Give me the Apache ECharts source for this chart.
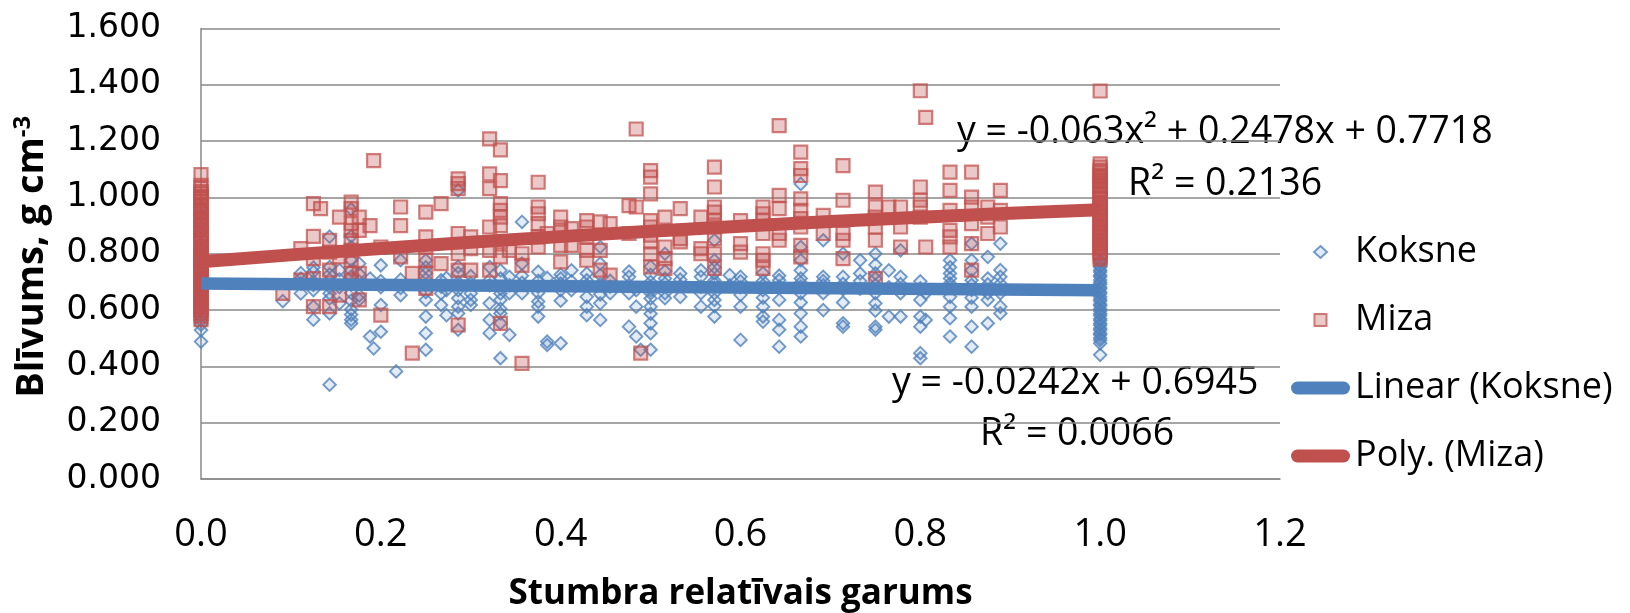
<!DOCTYPE html>
<html>
<head>
<meta charset="utf-8">
<script src="https://cdn.jsdelivr.net/npm/echarts@6/dist/echarts.min.js"></script>
<style>html,body{margin:0;padding:0;background:#fff}#chart{width:1630px;height:613px}</style>
</head>
<body>
<div id="chart"></div>
<script>
// ---- data ----
const seriesNames = ['Koksne', 'Miza', 'Linear (Koksne)', 'Poly. (Miza)'];
const xTicks = [0, 0.2, 0.4, 0.6, 0.8, 1.0, 1.2];
const yTicks = [0, 0.2, 0.4, 0.6, 0.8, 1.0, 1.2, 1.4, 1.6];

// Koksne: [relative stem position, [density values]]
const koksneCols = [
  [0, [0.488, 0.529, 0.548, 0.562, 0.579, 0.594, 0.612, 0.627, 0.643, 0.654, 0.669, 0.682, 0.694, 0.703, 0.718, 0.731, 0.744, 0.757, 0.772, 0.788, 0.801, 0.819, 0.834, 0.853, 0.872, 0.893, 0.914, 0.936, 0.963]],
  [0.091, [0.632]],
  [0.111, [0.731, 0.659, 0.694, 0.712]],
  [0.125, [0.736, 0.671, 0.612, 0.566, 0.702, 0.751, 0.689]],
  [0.143, [0.861, 0.753, 0.659, 0.588, 0.335, 0.708, 0.682, 0.727, 0.641]],
  [0.154, [0.742, 0.681, 0.624, 0.709]],
  [0.167, [0.958, 0.862, 0.824, 0.777, 0.718, 0.661, 0.602, 0.566, 0.553, 0.689, 0.741, 0.633, 0.584]],
  [0.176, [0.765, 0.637, 0.652, 0.702, 0.728]],
  [0.188, [0.506, 0.712]],
  [0.192, [0.464]],
  [0.2, [0.759, 0.618, 0.523, 0.681, 0.703]],
  [0.217, [0.382]],
  [0.222, [0.777, 0.653, 0.708, 0.679]],
  [0.25, [0.777, 0.731, 0.636, 0.577, 0.518, 0.459, 0.688, 0.664, 0.709, 0.752]],
  [0.267, [0.706, 0.659, 0.618, 0.683]],
  [0.273, [0.671, 0.582, 0.714]],
  [0.286, [1.025, 0.731, 0.671, 0.588, 0.53, 0.699, 0.642, 0.612, 0.754]],
  [0.3, [0.636, 0.618, 0.659, 0.694, 0.721]],
  [0.321, [0.753, 0.624, 0.565, 0.518, 0.688, 0.707]],
  [0.333, [0.677, 0.659, 0.588, 0.429, 0.712, 0.636, 0.604, 0.741, 0.553]],
  [0.343, [0.718, 0.66, 0.512, 0.688]],
  [0.357, [0.913, 0.765, 0.66, 0.697, 0.722]],
  [0.375, [0.736, 0.63, 0.612, 0.577, 0.683, 0.704, 0.661]],
  [0.385, [0.476, 0.488, 0.714]],
  [0.4, [0.712, 0.671, 0.482, 0.694, 0.633, 0.726]],
  [0.412, [0.671, 0.702, 0.741]],
  [0.429, [0.73, 0.647, 0.582, 0.689, 0.612, 0.706]],
  [0.444, [0.824, 0.765, 0.624, 0.565, 0.691, 0.656, 0.724]],
  [0.455, [0.66, 0.704, 0.683]],
  [0.476, [0.718, 0.66, 0.541, 0.689, 0.737]],
  [0.484, [0.506, 0.612, 0.671]],
  [0.489, [0.459]],
  [0.5, [0.7, 0.66, 0.612, 0.553, 0.518, 0.459, 0.683, 0.641, 0.725, 0.587, 0.754, 0.671]],
  [0.516, [0.8, 0.66, 0.642, 0.694, 0.712, 0.738]],
  [0.533, [0.73, 0.647, 0.686, 0.708]],
  [0.556, [0.718, 0.66, 0.612, 0.683, 0.741]],
  [0.571, [0.848, 0.777, 0.73, 0.66, 0.636, 0.577, 0.694, 0.705, 0.752, 0.614]],
  [0.588, [0.688, 0.724]],
  [0.6, [0.718, 0.612, 0.494, 0.681, 0.654, 0.702]],
  [0.625, [0.671, 0.612, 0.577, 0.559, 0.703, 0.688, 0.731, 0.644]],
  [0.643, [0.706, 0.636, 0.565, 0.53, 0.47, 0.684, 0.722]],
  [0.667, [1.048, 0.824, 0.777, 0.66, 0.588, 0.541, 0.506, 0.697, 0.712, 0.627, 0.741, 0.683]],
  [0.692, [0.848, 0.718, 0.66, 0.6, 0.688, 0.703]],
  [0.714, [0.8, 0.718, 0.553, 0.541, 0.674, 0.693, 0.627]],
  [0.733, [0.777, 0.73, 0.676, 0.703]],
  [0.75, [0.8, 0.73, 0.66, 0.624, 0.541, 0.53, 0.689, 0.598, 0.712, 0.761]],
  [0.765, [0.577, 0.681, 0.741]],
  [0.778, [0.812, 0.66, 0.577, 0.692, 0.718]],
  [0.8, [0.636, 0.577, 0.541, 0.447, 0.429, 0.677, 0.702]],
  [0.806, [0.565, 0.66]],
  [0.833, [0.777, 0.73, 0.683, 0.612, 0.571, 0.506, 0.694, 0.647, 0.752, 0.712]],
  [0.857, [0.836, 0.777, 0.706, 0.612, 0.541, 0.47, 0.672, 0.644, 0.741, 0.689]],
  [0.875, [0.789, 0.66, 0.636, 0.553, 0.691, 0.712]],
  [0.889, [0.836, 0.742, 0.66, 0.612, 0.588, 0.694, 0.718]],
  [1, [0.777, 0.769, 0.758, 0.752, 0.741, 0.735, 0.724, 0.718, 0.707, 0.698, 0.692, 0.681, 0.676, 0.664, 0.658, 0.647, 0.638, 0.632, 0.621, 0.615, 0.604, 0.597, 0.587, 0.581, 0.569, 0.563, 0.552, 0.546, 0.535, 0.529, 0.518, 0.512, 0.501, 0.493, 0.482, 0.441]]
];

// Miza: [relative stem position, [density values]]
const mizaCols = [
  [0, [1.081, 1.043, 1.032, 1.021, 1.014, 1.003, 0.996, 0.985, 0.971, 0.962, 0.952, 0.945, 0.932, 0.921, 0.914, 0.903, 0.893, 0.884, 0.872, 0.865, 0.853, 0.842, 0.836, 0.825, 0.815, 0.804, 0.798, 0.787, 0.778, 0.772, 0.761, 0.754, 0.742, 0.732, 0.725, 0.715, 0.706, 0.696, 0.689, 0.677, 0.667, 0.658, 0.647, 0.638, 0.628, 0.617, 0.608, 0.599, 0.588, 0.578, 0.566]],
  [0.091, [0.659]],
  [0.111, [0.818, 0.706]],
  [0.125, [0.978, 0.862, 0.783, 0.712, 0.612]],
  [0.133, [0.96]],
  [0.143, [0.848, 0.742, 0.612, 0.806]],
  [0.154, [0.93, 0.653, 0.789]],
  [0.167, [0.983, 0.96, 0.907, 0.883, 0.848, 0.777, 0.73, 0.706, 0.812]],
  [0.176, [0.93, 0.883, 0.73, 0.636]],
  [0.188, [0.9]],
  [0.192, [1.131]],
  [0.2, [0.824, 0.582]],
  [0.222, [0.966, 0.9, 0.789]],
  [0.235, [0.447, 0.73]],
  [0.25, [0.948, 0.86, 0.824, 0.777, 0.73, 0.677]],
  [0.267, [0.978, 0.765]],
  [0.286, [1.066, 1.049, 1.031, 0.872, 0.8, 0.742, 0.547]],
  [0.3, [0.86, 0.818, 0.742]],
  [0.321, [1.208, 1.084, 1.031, 0.895, 0.812, 0.742]],
  [0.333, [1.169, 1.06, 0.978, 0.954, 0.93, 0.9, 0.553, 0.842, 0.789]],
  [0.343, [0.812]],
  [0.357, [0.8, 0.759, 0.411]],
  [0.375, [1.054, 0.966, 0.942, 0.907, 0.86, 0.824]],
  [0.385, [0.872]],
  [0.4, [0.93, 0.895, 0.877, 0.83, 0.771]],
  [0.412, [0.889, 0.83]],
  [0.429, [0.918, 0.895, 0.86, 0.812, 0.777]],
  [0.444, [0.913, 0.812, 0.742]],
  [0.455, [0.907, 0.724]],
  [0.476, [0.971, 0.872]],
  [0.484, [1.243, 0.966]],
  [0.489, [0.447]],
  [0.5, [1.095, 1.072, 1.013, 0.918, 0.895, 0.842, 0.8, 0.753, 0.866]],
  [0.516, [0.93, 0.824, 0.783, 0.748]],
  [0.533, [0.96, 0.854, 0.842]],
  [0.556, [0.93, 0.818, 0.8]],
  [0.571, [1.108, 1.037, 0.966, 0.948, 0.918, 0.895, 0.854, 0.8, 0.748]],
  [0.6, [0.918, 0.836, 0.806]],
  [0.625, [0.966, 0.942, 0.918, 0.872, 0.8, 0.777, 0.748]],
  [0.643, [1.255, 1.007, 0.96, 0.872, 0.848]],
  [0.667, [1.161, 1.102, 1.078, 0.995, 0.954, 0.895, 0.83, 0.789, 0.925]],
  [0.692, [0.936, 0.872]],
  [0.714, [1.113, 0.99, 0.872, 0.848, 0.783]],
  [0.75, [1.019, 0.966, 0.93, 0.895, 0.848, 0.712]],
  [0.765, [0.966]],
  [0.778, [0.966, 0.895, 0.824]],
  [0.8, [1.379, 1.037, 0.99, 0.966, 0.93]],
  [0.806, [1.284, 0.824]],
  [0.833, [1.09, 1.025, 0.954, 0.883, 0.86, 0.824]],
  [0.857, [1.09, 1.001, 0.966, 0.907, 0.836, 0.742]],
  [0.875, [0.966, 0.93, 0.872]],
  [0.889, [1.025, 0.954, 0.895]],
  [1, [1.378, 1.119, 1.108, 1.096, 1.089, 1.078, 1.072, 1.061, 1.054, 1.043, 1.037, 1.026, 1.017, 1.011, 0.999, 0.993, 0.982, 0.976, 0.964, 0.958, 0.947, 0.941, 0.929, 0.923, 0.912, 0.906, 0.894, 0.888, 0.877, 0.871, 0.859, 0.853, 0.842, 0.836, 0.824, 0.818, 0.807, 0.801, 0.789, 0.781]]
];

// Trendlines (points as shown on the chart)
const linearKoksne = [[0, 0.6945], [1, 0.6703]];
const polyMiza = [[0, 0.7718], [0.1, 0.7960], [0.2, 0.8188], [0.3, 0.8405], [0.4, 0.8608], [0.5, 0.8800], [0.6, 0.8978], [0.7, 0.9144], [0.8, 0.9297], [0.9, 0.9438], [1.0, 0.9566]];

const equationTexts = [
  'y = -0.063x\u00b2 + 0.2478x + 0.7718',
  'R\u00b2 = 0.2136',
  'y = -0.0242x + 0.6945',
  'R\u00b2 = 0.0066'
];

// ---- build ----
function flatten(cols) {
  const out = [];
  cols.forEach(([x, ys]) => ys.forEach(y => out.push([x, y])));
  return out;
}

const BLUE = '#4f81bd', RED = '#c0504d';
const GRID = '#898989';
// legend icons drawn inside a 59x13 box
const capsuleIcon = 'path://M6.5,0L52.5,0A6.5,6.5,0,0,1,52.5,13L6.5,13A6.5,6.5,0,0,1,6.5,0Z';
const diamondIcon = 'path://M0,0L0,0M59,13L59,13M29.5,0.5L36,6.5L29.5,12.5L23,6.5Z';
const squareIcon = 'path://M0,0L0,0M59,13L59,13M23.5,0.5L35.5,0.5L35.5,12.5L23.5,12.5Z';

const chart = echarts.init(document.getElementById('chart'), null, {renderer: 'canvas'});
const eqFont = '37.5px "Open Sans"';
const eqStyle = (text) => ({text, font: eqFont, fill: '#000', textAlign: 'left', textVerticalAlign: 'middle'});
chart.setOption({
  animation: false,
  backgroundColor: '#fff',
  grid: {left: 201, right: 350, top: 28.5, bottom: 134, containLabel: false, outerBoundsMode: 'none'},
  xAxis: {
    type: 'value', min: xTicks[0], max: xTicks[xTicks.length - 1], interval: 0.2,
    name: 'Stumbra relatīvais garums', nameLocation: 'middle', nameGap: 98,
    nameTextStyle: {fontFamily: 'Open Sans', fontWeight: 'bold', fontSize: 35, color: '#000'},
    axisLine: {show: true, lineStyle: {color: GRID, width: 1.5}},
    axisTick: {show: false},
    splitLine: {show: false},
    axisLabel: {margin: 37, fontFamily: 'Open Sans', fontSize: 38, color: '#000', formatter: v => v.toFixed(1)}
  },
  yAxis: {
    type: 'value', min: yTicks[0], max: yTicks[yTicks.length - 1], interval: 0.2,
    name: '{a|Blīvums, g cm}{b|-3}', nameLocation: 'middle', nameGap: 148, nameRotate: 90,
    nameTextStyle: {
      padding: [0, 6, 0, 0],
      rich: {
        a: {fontFamily: 'Open Sans', fontWeight: 'bold', fontSize: 38, color: '#000', lineHeight: 42},
        b: {fontFamily: 'Open Sans', fontWeight: 'bold', fontSize: 24, color: '#000', verticalAlign: 'top', lineHeight: 42}
      }
    },
    axisLine: {show: true, lineStyle: {color: GRID, width: 1.5}},
    axisTick: {show: false},
    splitLine: {show: true, lineStyle: {color: GRID, width: 1.5}},
    axisLabel: {margin: 40, fontFamily: 'DejaVu Sans', fontSize: 33, color: '#000', formatter: v => v.toFixed(3)}
  },
  legend: {
    orient: 'vertical', left: 1290, top: 234, padding: 0, itemWidth: 59, itemHeight: 13, itemGap: 32,
    textStyle: {fontFamily: 'Open Sans', fontSize: 36, color: '#000', lineHeight: 36},
    data: [
      {name: seriesNames[0], icon: diamondIcon},
      {name: seriesNames[1], icon: squareIcon},
      {name: seriesNames[2], icon: capsuleIcon, itemStyle: {color: BLUE, borderWidth: 0}},
      {name: seriesNames[3], icon: capsuleIcon, itemStyle: {color: RED, borderWidth: 0}}
    ]
  },
  graphic: [
    {type: 'text', x: 957, y: 132, style: eqStyle(equationTexts[0])},
    {type: 'text', x: 1128, y: 184, style: eqStyle(equationTexts[1])},
    {type: 'text', x: 892, y: 383, style: eqStyle(equationTexts[2])},
    {type: 'text', x: 980, y: 434, style: eqStyle(equationTexts[3])}
  ],
  series: [
    {
      name: seriesNames[0], type: 'scatter', symbol: 'diamond', symbolSize: 12.5,
      itemStyle: {color: 'rgba(79,129,189,0.2)', borderColor: BLUE, borderWidth: 1.9},
      data: flatten(koksneCols)
    },
    {
      name: seriesNames[1], type: 'scatter', symbol: 'rect', symbolSize: 13,
      itemStyle: {color: 'rgba(192,80,77,0.38)', borderColor: 'rgba(192,80,77,0.92)', borderWidth: 2.2},
      data: flatten(mizaCols)
    },
    {
      name: seriesNames[2], type: 'line', showSymbol: false, symbol: 'none',
      itemStyle: {color: BLUE},
      lineStyle: {color: BLUE, width: 12.5, cap: 'butt'},
      data: linearKoksne
    },
    {
      name: seriesNames[3], type: 'line', showSymbol: false, symbol: 'none', smooth: false,
      itemStyle: {color: RED},
      lineStyle: {color: RED, width: 13, cap: 'butt'},
      data: polyMiza
    }
  ]
});
</script>
</body>
</html>
